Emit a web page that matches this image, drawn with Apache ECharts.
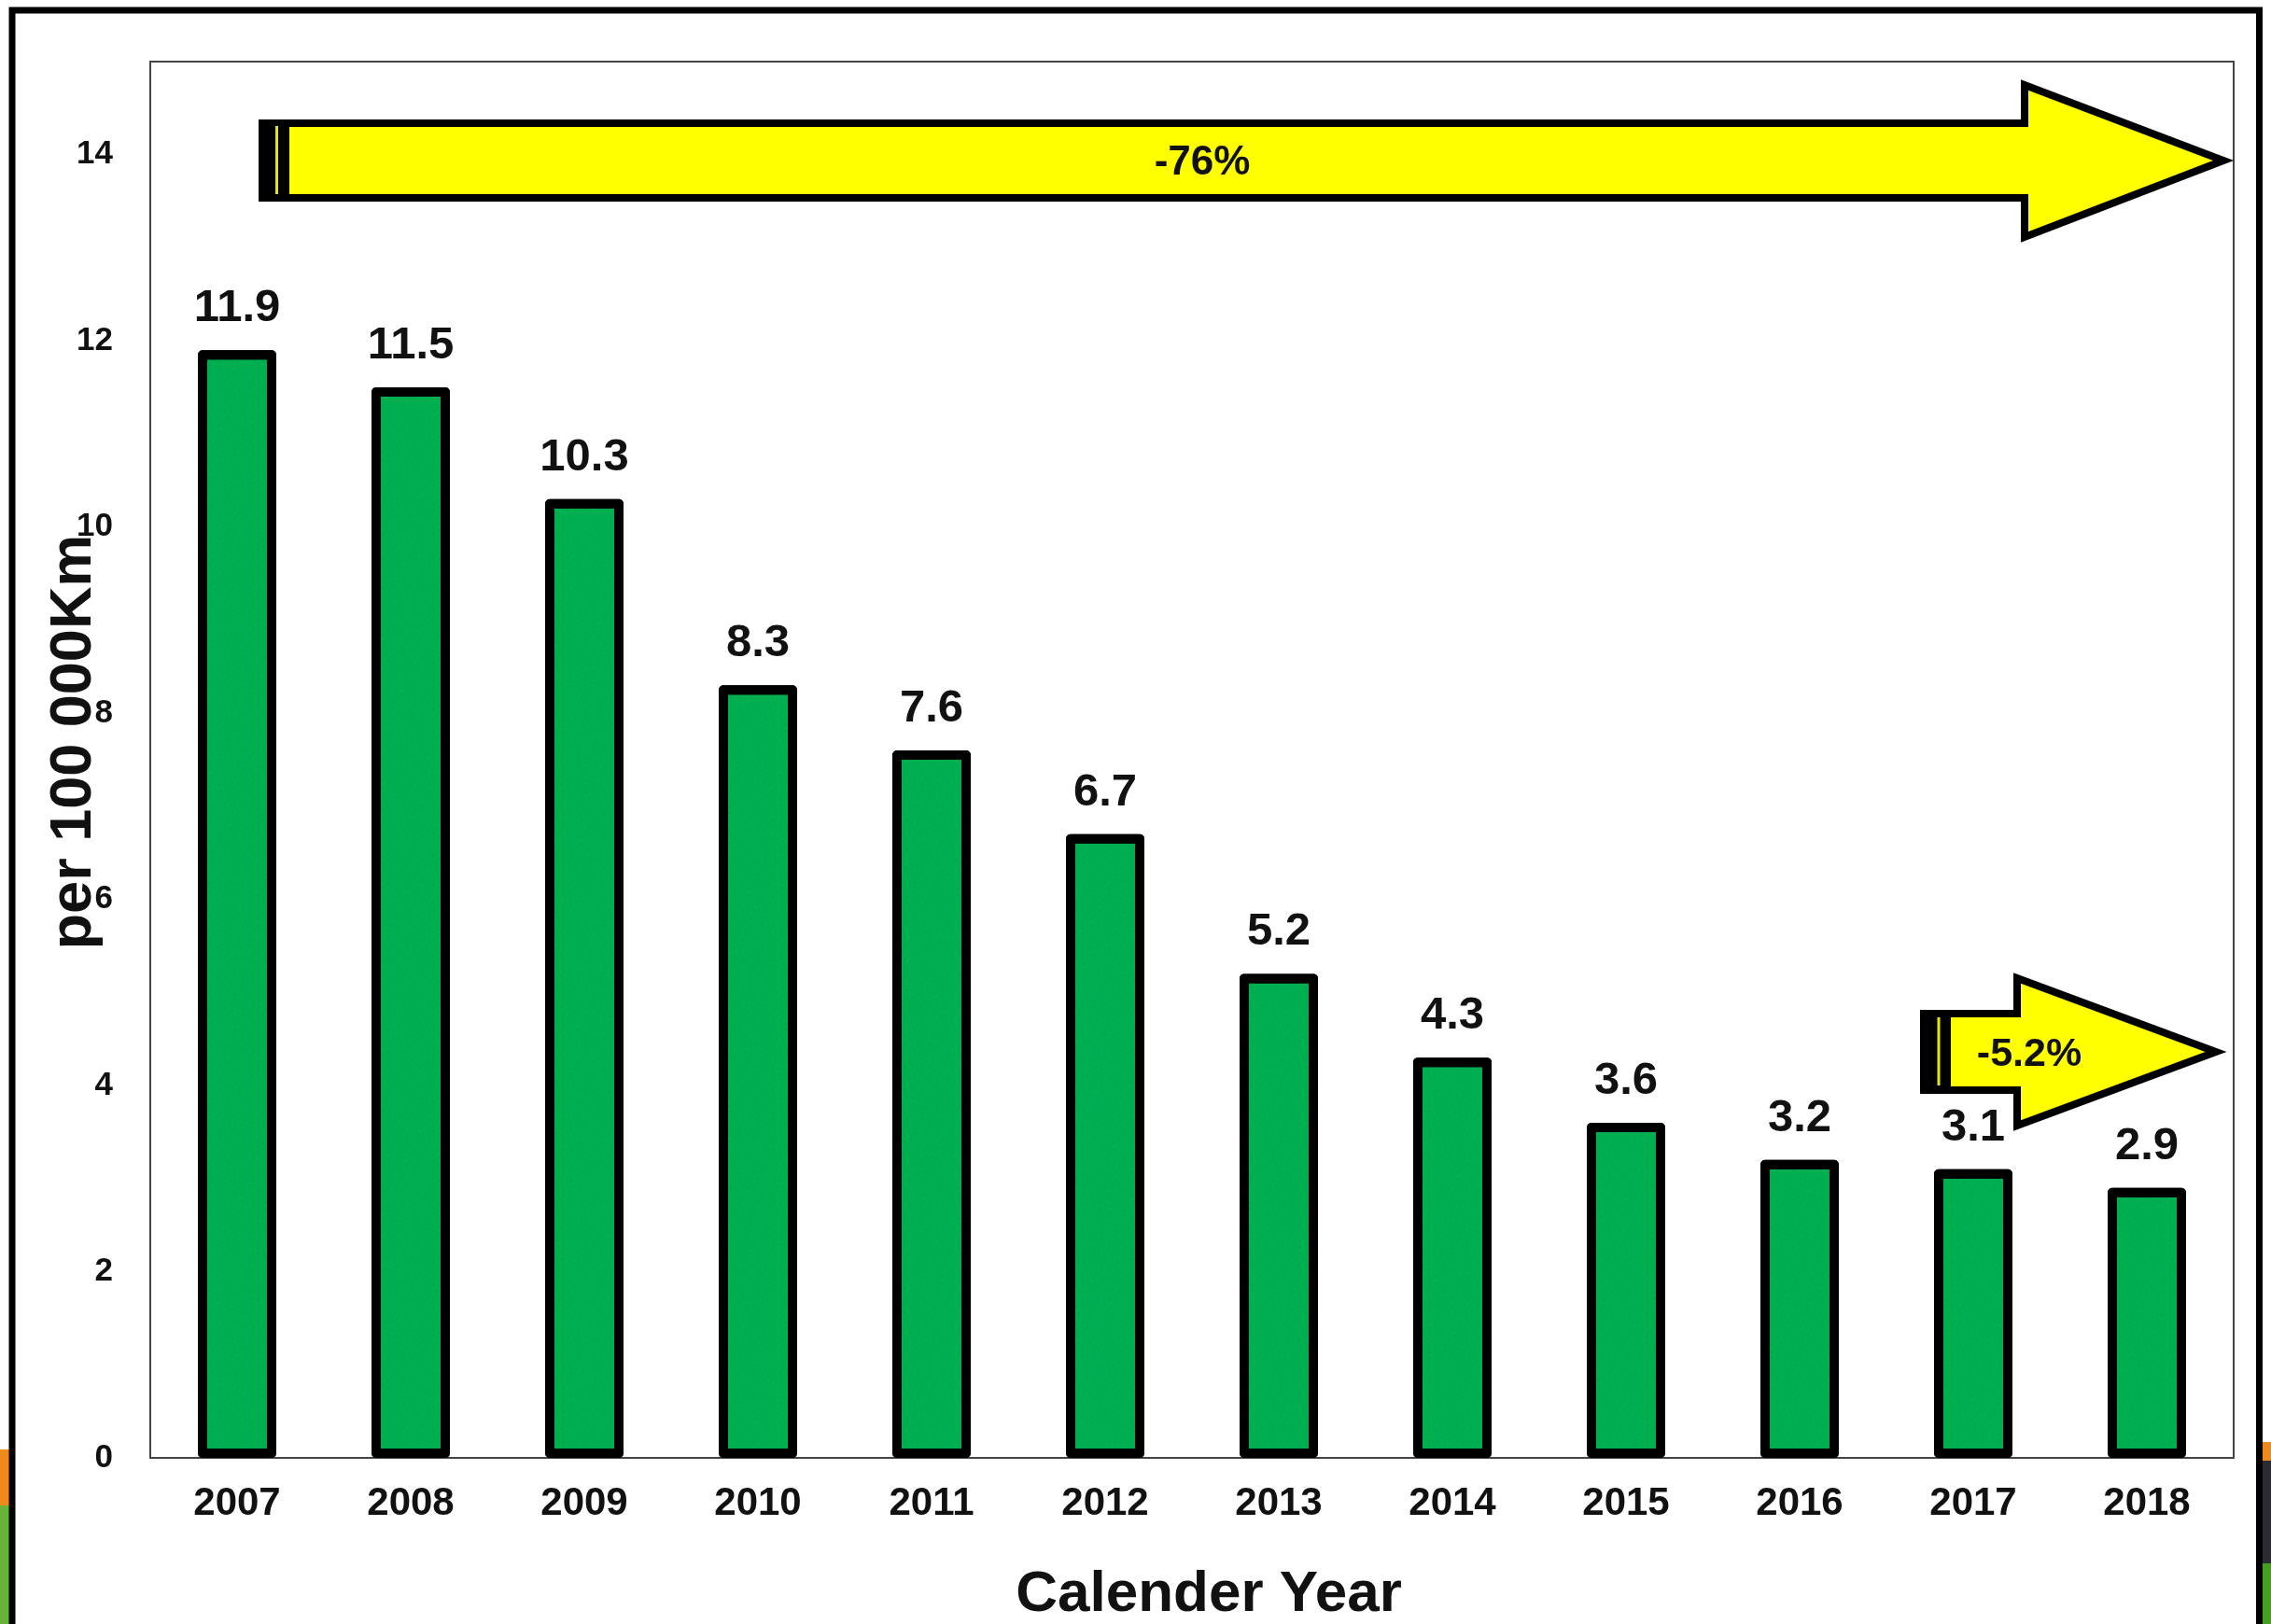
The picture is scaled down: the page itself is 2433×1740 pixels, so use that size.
<!DOCTYPE html>
<html>
<head>
<meta charset="utf-8">
<script src="https://cdn.jsdelivr.net/npm/echarts@6/dist/echarts.min.js"></script>
<style>
html,body{margin:0;padding:0;background:#fff;}
#chart{width:2433px;height:1740px;}
</style>
</head>
<body>
<div id="chart"></div>
<script>
// ---- data ----
const years = ['2007','2008','2009','2010','2011','2012','2013','2014','2015','2016','2017','2018'];
const rates = [11.9, 11.5, 10.3, 8.3, 7.6, 6.7, 5.2, 4.3, 3.6, 3.2, 3.1, 2.9];
const yAxisTitle = 'per 100 000Km';
const xAxisTitle = 'Calender Year';
const longTermChange = '-76%';
const lastYearChange = '-5.2%';

const FONT = '"Liberation Sans", Arial, sans-serif';
const chart = echarts.init(document.getElementById('chart'), null, {renderer: 'canvas'});

function arrow(left, top, bottom, headX, headTop, headBottom, tipX, blockEnd, lineX, lineTop, lineBottom) {
  const midY = (top + bottom) / 2;
  return [
    {
      type: 'polygon', z: 10,
      shape: {points: [[left, top], [headX, top], [headX, headTop], [tipX, midY], [headX, headBottom], [headX, bottom], [left, bottom]]},
      style: {fill: '#FFFF00', stroke: '#000', lineWidth: 8, lineJoin: 'miter'}
    },
    {
      type: 'rect', z: 11,
      shape: {x: left - 4, y: top - 4, width: blockEnd - left + 4, height: bottom - top + 8},
      style: {fill: '#000'}
    },
    {
      type: 'rect', z: 12,
      shape: {x: lineX - 1.5, y: lineTop, width: 3, height: lineBottom - lineTop},
      style: {fill: '#E6E600'}
    }
  ];
}

const graphics = [
  // slide background fragments outside the frame
  {type: 'rect', z: 0, shape: {x: 0, y: 1553, width: 10, height: 60}, style: {fill: '#EE8A1C'}},
  {type: 'rect', z: 0, shape: {x: 0, y: 1613, width: 10, height: 127}, style: {fill: '#66B23A'}},
  {type: 'rect', z: 0, shape: {x: 2424, y: 1545, width: 9, height: 20}, style: {fill: '#EE8A1C'}},
  {type: 'rect', z: 0, shape: {x: 2424, y: 1565, width: 9, height: 110}, style: {fill: '#2b2b33'}},
  {type: 'rect', z: 0, shape: {x: 2424, y: 1675, width: 9, height: 65}, style: {fill: '#46A020'}},
  // outer frame
  {type: 'rect', z: 1, shape: {x: 13, y: 11, width: 2407.5, height: 2000},
   style: {fill: 'none', stroke: '#000', lineWidth: 7}},
  ...arrow(281, 132, 212, 2169, 91, 254, 2382, 310, 296.5, 135, 208),
  {type: 'text', z: 13, x: 1288, y: 175,
   style: {text: longTermChange, font: 'bold 44px ' + FONT, fill: '#111', align: 'center', verticalAlign: 'middle'}},
  ...arrow(2061, 1086, 1168, 2161, 1048, 1206, 2374, 2090, 2077, 1090, 1163),
  {type: 'text', z: 13, x: 2174, y: 1130,
   style: {text: lastYearChange, font: 'bold 43px ' + FONT, fill: '#111', align: 'center', verticalAlign: 'middle'}}
];

const option = {
  backgroundColor: '#fff',
  animation: false,
  textStyle: {fontFamily: FONT},
  grid: {
    left: 161, right: 40, top: 66, bottom: 178,
    outerBoundsMode: 'none',
    show: true, borderColor: '#444', borderWidth: 2, backgroundColor: 'transparent'
  },
  xAxis: {
    type: 'category',
    data: years,
    name: xAxisTitle,
    nameLocation: 'middle',
    nameGap: 116,
    nameMoveOverlap: false,
    nameTextStyle: {fontSize: 62, fontWeight: 'bold', color: '#111', fontFamily: FONT, padding: [0, 0, 0, 36]},
    axisLine: {show: true, lineStyle: {color: '#444', width: 2}},
    axisTick: {show: false},
    axisLabel: {fontSize: 42, fontWeight: 'bold', color: '#111', margin: 28, fontFamily: FONT}
  },
  yAxis: {
    type: 'value',
    min: 0, max: 15, interval: 2,
    name: yAxisTitle,
    nameLocation: 'middle',
    nameGap: 50,
    nameMoveOverlap: false,
    nameTextStyle: {fontSize: 63, fontWeight: 'bold', color: '#111', fontFamily: FONT, padding: [0, 0, 0, 38]},
    axisLine: {show: true, lineStyle: {color: '#444', width: 2}},
    axisTick: {show: false},
    splitLine: {show: false},
    axisLabel: {
      fontSize: 35, fontWeight: 'bold', color: '#111', margin: 40, fontFamily: FONT,
      formatter: v => (v % 2 === 0 ? String(v) : '')
    }
  },
  series: [{
    type: 'bar',
    data: rates,
    barWidth: 84,
    z: 5,
    itemStyle: {
      color: '#00B050',
      borderColor: '#000',
      borderWidth: 10,
      borderJoin: 'round',
      decal: {
        symbol: 'circle',
        symbolSize: 0.5,
        color: 'rgba(0,100,35,0.6)',
        dashArrayX: [[2, 5], [0, 3, 2, 2]],
        dashArrayY: [2, 4],
        rotation: 0.3
      }
    },
    label: {
      show: true,
      position: 'top',
      distance: 20,
      fontSize: 49,
      fontWeight: 'bold',
      color: '#111',
      fontFamily: FONT,
      formatter: p => p.value.toFixed(1)
    }
  }],
  graphic: graphics
};
chart.setOption(option);
</script>
</body>
</html>
